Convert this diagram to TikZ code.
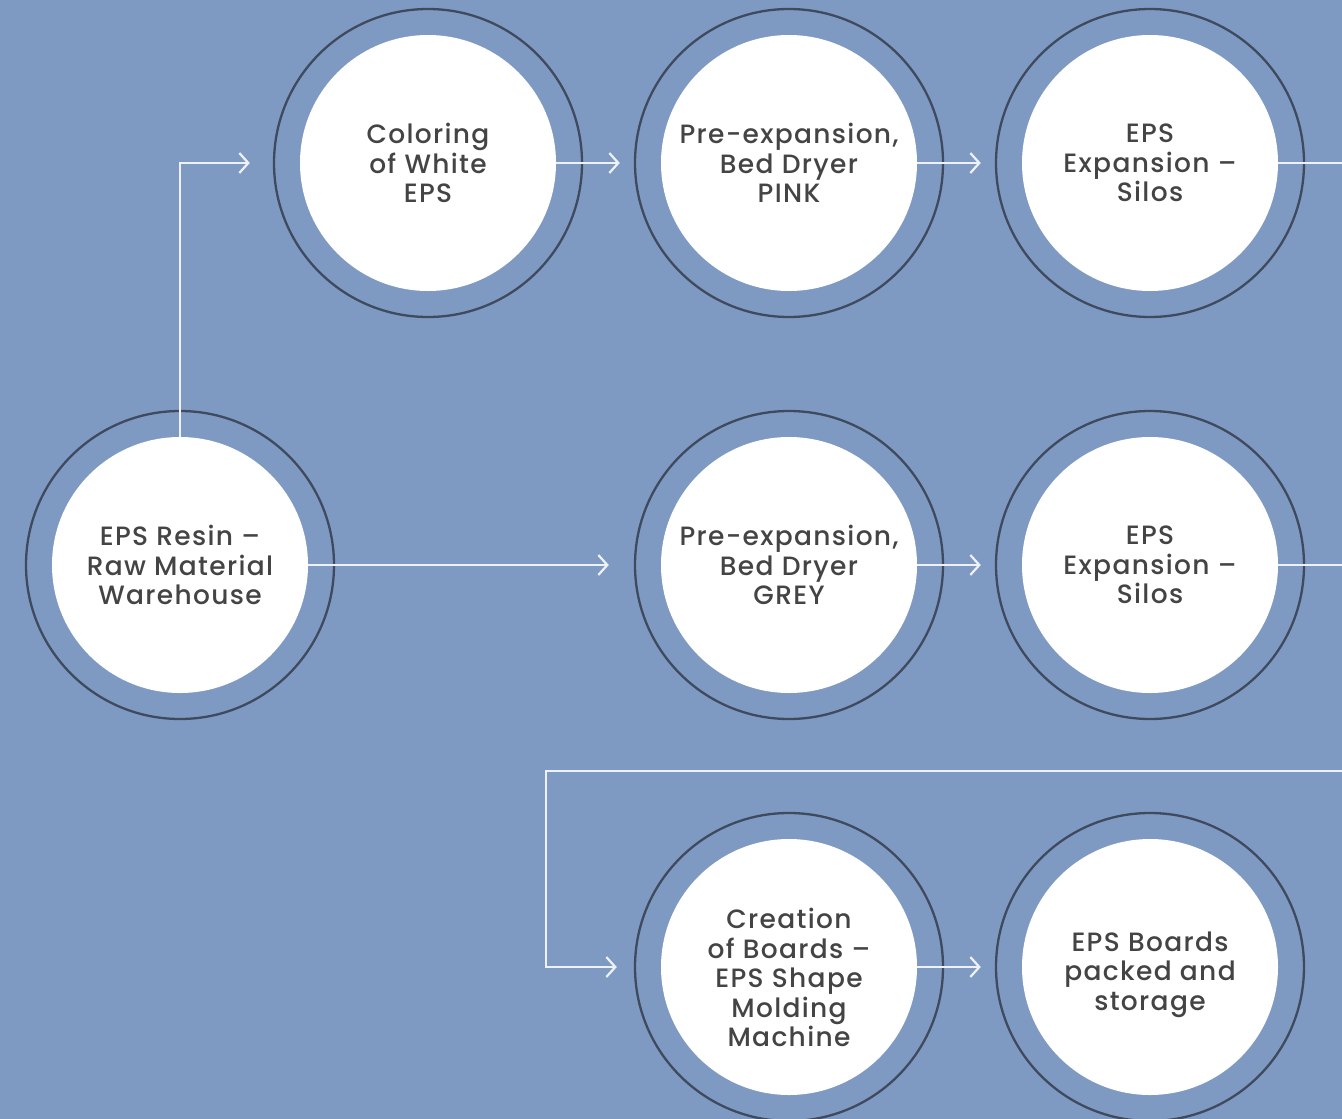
\documentclass[tikz,border=0pt]{standalone}
\usepackage{fontspec}
\setmainfont{Poppins Medium}[LetterSpace=5]
\usetikzlibrary{arrows.meta}
\definecolor{bg}{HTML}{7F9AC2}
\definecolor{ringc}{HTML}{3F4A5E}
\definecolor{linec}{HTML}{EEF2F8}
\definecolor{txt}{HTML}{444444}
\newcommand{\lowtext}[2]{\raisebox{#1}[0pt][0pt]{\begin{tabular}{@{}c@{}}#2\end{tabular}}}
\begin{document}
\begin{tikzpicture}[x=1pt,y=-1pt,
  station/.style={circle,fill=white,minimum size=256pt,inner sep=0pt,align=center,
    text=txt,font=\fontsize{26.5}{29.5}\selectfont},
  ring/.style={draw=ringc,line width=2.3pt},
  flow/.style={draw=linec,line width=2.2pt},
  arr/.style={flow,-{Straight Barb[length=9pt,width=20pt,line width=2.2pt]}}]
\fill[bg] (0,0) rectangle (1342,1119);
\useasboundingbox (0,0) rectangle (1342,1119);
% stations
\node[station] (col) at (428,163) {Coloring\\of White\\EPS};
\node[station] (pp)  at (789,163) {Pre-expansion,\\Bed Dryer\\PINK};
\node[station] (s1)  at (1150,163) {EPS\\Expansion –\\Silos};
\node[station] (raw) at (180,565) {EPS Resin –\\Raw Material\\Warehouse};
\node[station] (pg)  at (789,565) {Pre-expansion,\\Bed Dryer\\GREY};
\node[station] (s2)  at (1150,565) {EPS\\Expansion –\\Silos};
\node[station] (cr)  at (789,967) {\lowtext{-21pt}{Creation\\of Boards –\\EPS Shape\\Molding\\Machine}};
\node[station] (pk)  at (1150,967) {\lowtext{-14pt}{EPS Boards\\packed and\\storage}};
\foreach \n in {col,pp,s1,raw,pg,s2,cr,pk}{\draw[ring] (\n.center) circle (154);}
% edge coordinates
\coordinate (e1) at (1342,163);
\coordinate (e2) at (1342,565);
\coordinate (e3) at (1342,771);
\coordinate (k)  at (546,771);
% connectors
\draw[arr,shorten >=50pt] (raw.north) |- (col.west);
\draw[arr,shorten >=41pt] (col.east) -- (pp.west);
\draw[arr,shorten >=41pt] (pp.east) -- (s1.west);
\draw[flow] (s1.east) -- (e1);
\draw[arr,shorten >=52pt] (raw.east) -- (pg.west);
\draw[arr,shorten >=41pt] (pg.east) -- (s2.west);
\draw[flow] (s2.east) -- (e2);
\draw[arr,shorten >=44pt] (e3) -- (k) |- (cr.west);
\draw[arr,shorten >=41pt] (cr.east) -- (pk.west);
\end{tikzpicture}
\end{document}
